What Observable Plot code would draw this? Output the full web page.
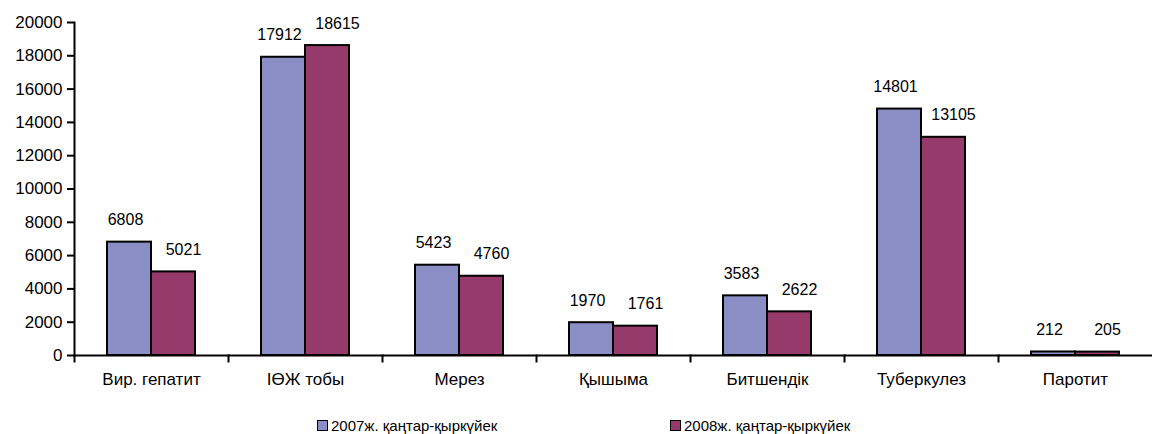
<!DOCTYPE html>
<html>
<head>
<meta charset="utf-8">
<script src="https://cdn.jsdelivr.net/npm/d3@7"></script>
<script src="https://cdn.jsdelivr.net/npm/@observablehq/plot@0.6"></script>
<style>
  html, body { margin: 0; padding: 0; background: #fff; }
  body { width: 1154px; font-family: "Liberation Sans", Arial, sans-serif; }
  #legend { position: relative; height: 34px; font-size: 15px; color: #000; }
  .item { position: absolute; top: 17px; display: flex; align-items: center; white-space: nowrap; }
  .sw { width: 9px; height: 9px; border: 1.5px solid #000; margin-right: 3px; }
</style>
</head>
<body>
<div id="chart"></div>
<div id="legend"></div>
<script>
const categories = ["Вир. гепатит", "ІӨЖ тобы", "Мерез", "Қышыма", "Битшендік", "Туберкулез", "Паротит"];
const seriesNames = ["2007ж. қаңтар-қыркүйек", "2008ж. қаңтар-қыркүйек"];
const values2007 = [6808, 17912, 5423, 1970, 3583, 14801, 212];
const values2008 = [5021, 18615, 4760, 1761, 2622, 13105, 205];
const yTicks = [0, 2000, 4000, 6000, 8000, 10000, 12000, 14000, 16000, 18000, 20000];
const colors = ["#8b8ec5", "#963a6b"];

const data = [];
categories.forEach((c, i) => {
  data.push({cat: c, series: seriesNames[0], value: values2007[i]});
  data.push({cat: c, series: seriesNames[1], value: values2008[i]});
});

const H = 400;
const plot = Plot.plot({
  width: 1154,
  height: H,
  marginTop: 22,
  marginBottom: H - 355,
  marginLeft: 71,
  marginRight: 0,
  style: {fontFamily: "Liberation Sans, Arial, sans-serif", fontSize: "16px", color: "#000", background: "#fff"},
  fx: {domain: categories, paddingInner: 0, paddingOuter: 0, label: null},
  x: {domain: seriesNames, paddingInner: 0, paddingOuter: 0.74, axis: null},
  y: {domain: [0, 20000], label: null},
  color: {domain: seriesNames, range: colors},
  marks: [
    Plot.barY(data, {fx: "cat", x: "series", y: "value", fill: "series", stroke: "#000", strokeWidth: 2}),
    Plot.text(data.filter(d => d.series === seriesNames[0]), {fx: "cat", x: "series", y: "value", text: d => String(d.value), dy: -22, dx: -4, fontSize: 16, fill: "#000"}),
    Plot.text(data.filter(d => d.series === seriesNames[1]), {fx: "cat", x: "series", y: "value", text: d => String(d.value), dy: -22, dx: 10, fontSize: 16, fill: "#000"}),
    Plot.ruleY([0], {stroke: "#000", strokeWidth: 2}),
    Plot.frame({anchor: "left", facetAnchor: "left", stroke: "#000", strokeWidth: 2}),
    Plot.frame({anchor: "left", stroke: "#000", strokeWidth: 2, insetTop: 333, insetBottom: -6}),
    Plot.axisY({ticks: yTicks, tickFormat: d3.format("d"), tickSize: 7, tickPadding: 5, strokeWidth: 2, fontSize: 17, label: null}),
    Plot.axisFx({anchor: "bottom", tickSize: 0, tickPadding: 17, fontSize: 17, label: null})
  ]
});
document.getElementById("chart").appendChild(plot);

const legend = document.getElementById("legend");
const lefts = [317, 670];
seriesNames.forEach((s, i) => {
  const it = document.createElement("div");
  it.className = "item";
  it.style.left = lefts[i] + "px";
  const sw = document.createElement("span");
  sw.className = "sw";
  sw.style.background = colors[i];
  const tx = document.createElement("span");
  tx.textContent = s;
  it.appendChild(sw);
  it.appendChild(tx);
  legend.appendChild(it);
});
</script>
</body>
</html>
